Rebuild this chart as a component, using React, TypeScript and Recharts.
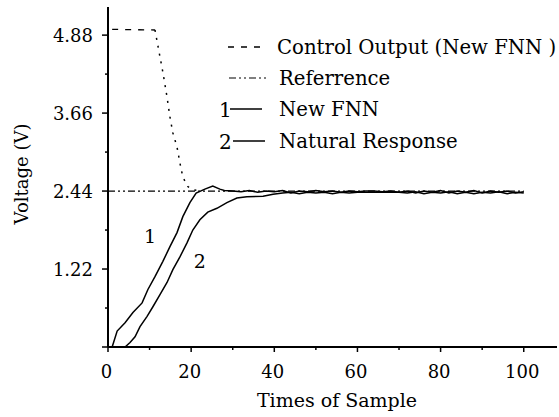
import { LineChart, Line, XAxis, YAxis, ReferenceDot } from 'recharts';

// values
const xTicks = [0, 10, 20, 30, 40, 50, 60, 70, 80, 90, 100];
const yTicks = [0, 0.61, 1.22, 1.83, 2.44, 3.05, 3.66, 4.27, 4.88];
const yTickLabels = ['', '', '1.22', '', '2.44', '', '3.66', '', '4.88'];

const ctrlFlatX = [1, 11.3];
const ctrlFlatY = [4.97, 4.96];
const ctrlDropX = [11.3, 12.5, 13.2, 14.2, 14.9, 15.6, 16.6, 17.3, 18.0, 19.2, 20.4, 21.5];
const ctrlDropY = [4.96, 4.54, 4.3, 3.91, 3.6, 3.35, 3.13, 2.88, 2.66, 2.51, 2.46, 2.45];

const refX = [0, 100];
const refY = [2.44, 2.44];

const fnnX = [1, 2.2, 4.1, 6.0, 8.2, 9.6, 11.3, 13.2, 14.9, 16.6, 18.0, 19.7, 21.2, 23.3, 25.2, 26.9,
  28, 30, 32, 34, 36, 38, 40, 42, 44, 46, 48, 50, 52, 54, 56, 58, 60, 62, 64, 66, 68, 70,
  72, 74, 76, 78, 80, 82, 84, 86, 88, 90, 92, 94, 96, 98, 100];
const fnnY = [0, 0.25, 0.38, 0.54, 0.69, 0.9, 1.1, 1.34, 1.57, 1.79, 2.04, 2.26, 2.41, 2.47, 2.52, 2.47,
  2.45, 2.44, 2.43, 2.45, 2.42, 2.44, 2.43, 2.45, 2.41, 2.44, 2.43, 2.45, 2.43, 2.44, 2.42, 2.44, 2.43, 2.44, 2.44, 2.43, 2.44, 2.42,
  2.44, 2.41, 2.44, 2.42, 2.45, 2.41, 2.44, 2.42, 2.45, 2.41, 2.44, 2.42, 2.44, 2.41, 2.43];

const natX = [4.1, 5.3, 6.5, 7.7, 9.4, 10.8, 12.5, 14.2, 15.6, 17.3, 19.0, 20.4, 22.1, 24.0, 26.2, 28.6,
  31.0, 33.4, 37.3, 39.7, 42, 44, 46, 48, 50, 52, 54, 56, 58, 60, 62, 64, 66, 68, 70, 72, 74,
  76, 78, 80, 82, 84, 86, 88, 90, 92, 94, 96, 98, 100];
const natY = [0, 0.07, 0.16, 0.32, 0.48, 0.63, 0.82, 1.01, 1.21, 1.41, 1.63, 1.83, 1.99, 2.11, 2.17, 2.26,
  2.33, 2.35, 2.36, 2.39, 2.41, 2.42, 2.4, 2.42, 2.41, 2.42, 2.4, 2.42, 2.41, 2.42, 2.42, 2.42, 2.42, 2.42, 2.42, 2.41, 2.43,
  2.4, 2.42, 2.41, 2.43, 2.4, 2.42, 2.4, 2.42, 2.41, 2.43, 2.4, 2.42, 2.41];

const legendItems = ['Control Output (New FNN )', 'Referrence', 'New FNN', 'Natural Response'];

const toPoints = (xs: number[], ys: number[]) => xs.map((x, i) => ({ x, y: ys[i] }));

const FONT = '"DejaVu Serif", serif';
const txt = (size: number, spacing = 0) => ({ fontFamily: FONT, fontSize: size, letterSpacing: spacing, fill: '#000' });

const XTick = (props: any) => {
  const { x, y, payload } = props;
  const major = payload.value % 20 === 0;
  return (
    <g>
      <line x1={x} x2={x} y1={y} y2={y + (major ? 5 : 3)} stroke="#000" strokeWidth={1.5} />
      {major && (
        <text x={x - 1.5} y={y + 31} textAnchor="middle" style={txt(18)}>
          {payload.value}
        </text>
      )}
    </g>
  );
};

const YTick = (props: any) => {
  const { x, y, payload, index } = props;
  const label = yTickLabels[index];
  const major = index % 2 === 0;
  return (
    <g>
      <line x1={x - (major ? 6 : 3)} x2={x} y1={y} y2={y} stroke="#000" strokeWidth={1.5} />
      {label && (
        <text x={x - 15} y={y + 7} textAnchor="end" style={txt(18)}>
          {label}
        </text>
      )}
    </g>
  );
};

export default function App() {
  const rowY = [47, 78, 109, 141];
  return (
    <div style={{ position: 'absolute', left: 0, top: 0, width: 559, height: 417, background: '#fff' }}>
      <LineChart width={559} height={417} margin={{ top: 7, right: 2, left: 0, bottom: 0 }} style={{ fontFamily: FONT }}>
        <XAxis
          type="number"
          dataKey="x"
          domain={[0, 108]}
          ticks={xTicks}
          interval={0}
          tick={(p: any) => <XTick {...p} />}
          tickLine={false}
          tickSize={0}
          tickMargin={0}
          height={70}
          axisLine={{ stroke: '#000', strokeWidth: 2 }}
          allowDataOverflow
        />
        <YAxis
          type="number"
          dataKey="y"
          domain={[0, 5.32]}
          ticks={yTicks}
          interval={0}
          tick={(p: any) => <YTick {...p} />}
          tickLine={false}
          tickSize={0}
          tickMargin={0}
          width={108}
          axisLine={{ stroke: '#000', strokeWidth: 2 }}
          allowDataOverflow
        />
        <Line data={toPoints(refX, refY)} dataKey="y" stroke="#000" strokeWidth={1.2} strokeDasharray="7 3 2 3 2 3" dot={false} isAnimationActive={false} />
        <Line data={toPoints(ctrlFlatX, ctrlFlatY)} dataKey="y" stroke="#000" strokeWidth={1.3} strokeDasharray="6 7" dot={false} isAnimationActive={false} />
        <Line data={toPoints(ctrlDropX, ctrlDropY)} dataKey="y" stroke="#000" strokeWidth={1.5} strokeDasharray="2 6" dot={false} isAnimationActive={false} />
        <Line data={toPoints(natX, natY)} dataKey="y" stroke="#000" strokeWidth={1.5} dot={false} isAnimationActive={false} />
        <Line data={toPoints(fnnX, fnnY)} dataKey="y" stroke="#000" strokeWidth={1.5} dot={false} isAnimationActive={false} />
        <ReferenceDot x={10.1} y={1.74} r={0} fill="none" stroke="none"
          label={{ value: '1', position: 'center', style: txt(19) }} />
        <ReferenceDot x={22.1} y={1.34} r={0} fill="none" stroke="none"
          label={{ value: '2', position: 'center', style: txt(19) }} />
        <g>
          <text x={337} y={407} textAnchor="middle" style={txt(19)}>
            Times of Sample
          </text>
          <text transform="translate(28,174) rotate(-90)" textAnchor="middle" style={txt(18)}>
            Voltage (V)
          </text>
          <line x1={228} x2={266} y1={rowY[0]} y2={rowY[0]} stroke="#000" strokeWidth={1.3} strokeDasharray="6 7" />
          <line x1={229} x2={266} y1={rowY[1]} y2={rowY[1]} stroke="#000" strokeWidth={1.2} strokeDasharray="7 3 2 3 2 3" />
          <text x={219} y={rowY[2] + 8} style={txt(20)}>1</text>
          <line x1={230} x2={262} y1={rowY[2]} y2={rowY[2]} stroke="#000" strokeWidth={1.5} />
          <text x={219} y={rowY[3] + 8} style={txt(20)}>2</text>
          <line x1={233} x2={265} y1={rowY[3]} y2={rowY[3]} stroke="#000" strokeWidth={1.5} />
          {legendItems.map((t, i) => (
            <text key={t} x={i === 0 ? 277 : 279} y={rowY[i] + 7} style={txt(19.7)}>
              {t}
            </text>
          ))}
        </g>
      </LineChart>
    </div>
  );
}
